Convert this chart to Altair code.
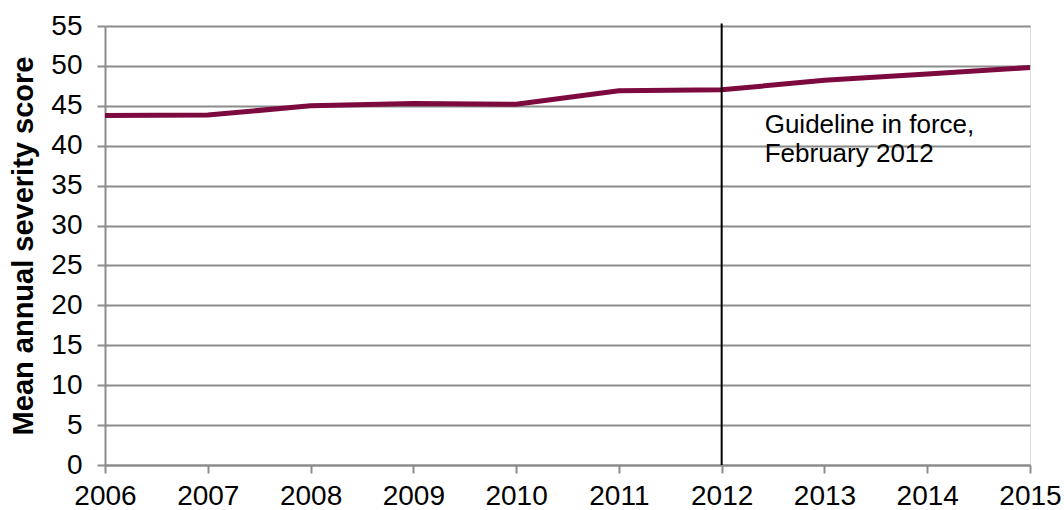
import altair as alt
import pandas as pd

years = [2006, 2007, 2008, 2009, 2010, 2011, 2012, 2013, 2014, 2015]
scores = [43.8, 43.85, 45.0, 45.3, 45.2, 46.9, 47.0, 48.2, 49.0, 49.8]
guideline_year = [2012]
annot_lines = ["Guideline in force,", "February 2012"]
annot_y = [41.6, 38.0]

df = pd.DataFrame({"year": years, "score": scores})
vdf = pd.DataFrame({"year": guideline_year, "lo": [0], "hi": [55.3]})
adf = pd.DataFrame({"year": guideline_year * 2, "y": annot_y, "text": annot_lines})

FONT = "Liberation Sans"
GRAY = "#8c8c8c"
xscale = alt.Scale(domain=[2006, 2015], nice=False, zero=False)
yscale = alt.Scale(domain=[0, 55], nice=False)

xaxis = alt.Axis(values=years, format="d", title=None, grid=False,
                 labelFontSize=28, labelColor="black", labelFont=FONT,
                 labelOverlap=False, labelFlush=False, labelBound=False,
                 domainColor=GRAY, domainWidth=2, tickColor=GRAY,
                 tickWidth=2, tickSize=8, labelPadding=9)
yaxis = alt.Axis(values=list(range(0, 56, 5)), title="Mean annual severity score",
                 titleFontSize=29, titleFont=FONT, titleFontWeight="bold",
                 titleColor="black", titlePadding=12,
                 labelFontSize=28, labelColor="black", labelFont=FONT,
                 labelOverlap=False, labelFlush=False, labelBound=False,
                 gridColor=GRAY, gridWidth=2, domainColor=GRAY,
                 domainWidth=2, tickColor=GRAY, tickWidth=2, tickSize=8,
                 labelPadding=15)

line = alt.Chart(df).mark_line(color="#7D0A3F", strokeWidth=5).encode(
    x=alt.X("year:Q", scale=xscale, axis=xaxis),
    y=alt.Y("score:Q", scale=yscale, axis=yaxis),
)

vline = alt.Chart(vdf).mark_rule(color="black", strokeWidth=2).encode(
    x=alt.X("year:Q", scale=xscale, axis=xaxis),
    y=alt.Y("lo:Q", scale=yscale, axis=yaxis),
    y2="hi:Q",
)

text = alt.Chart(adf).mark_text(align="left", baseline="alphabetic", dx=43,
                                fontSize=26, font=FONT, color="black").encode(
    x=alt.X("year:Q", scale=xscale, axis=xaxis),
    y=alt.Y("y:Q", scale=yscale, axis=yaxis),
    text="text:N",
)

chart = alt.layer(line, vline, text).properties(
    width=925, height=439,
    padding={"left": 105, "top": 26, "right": 34, "bottom": 45},
    autosize=alt.AutoSizeParams(type="none"),
).configure_view(stroke=None).configure(background="white")

chart.save("out.html", embed_options={"renderer": "svg", "actions": False})
